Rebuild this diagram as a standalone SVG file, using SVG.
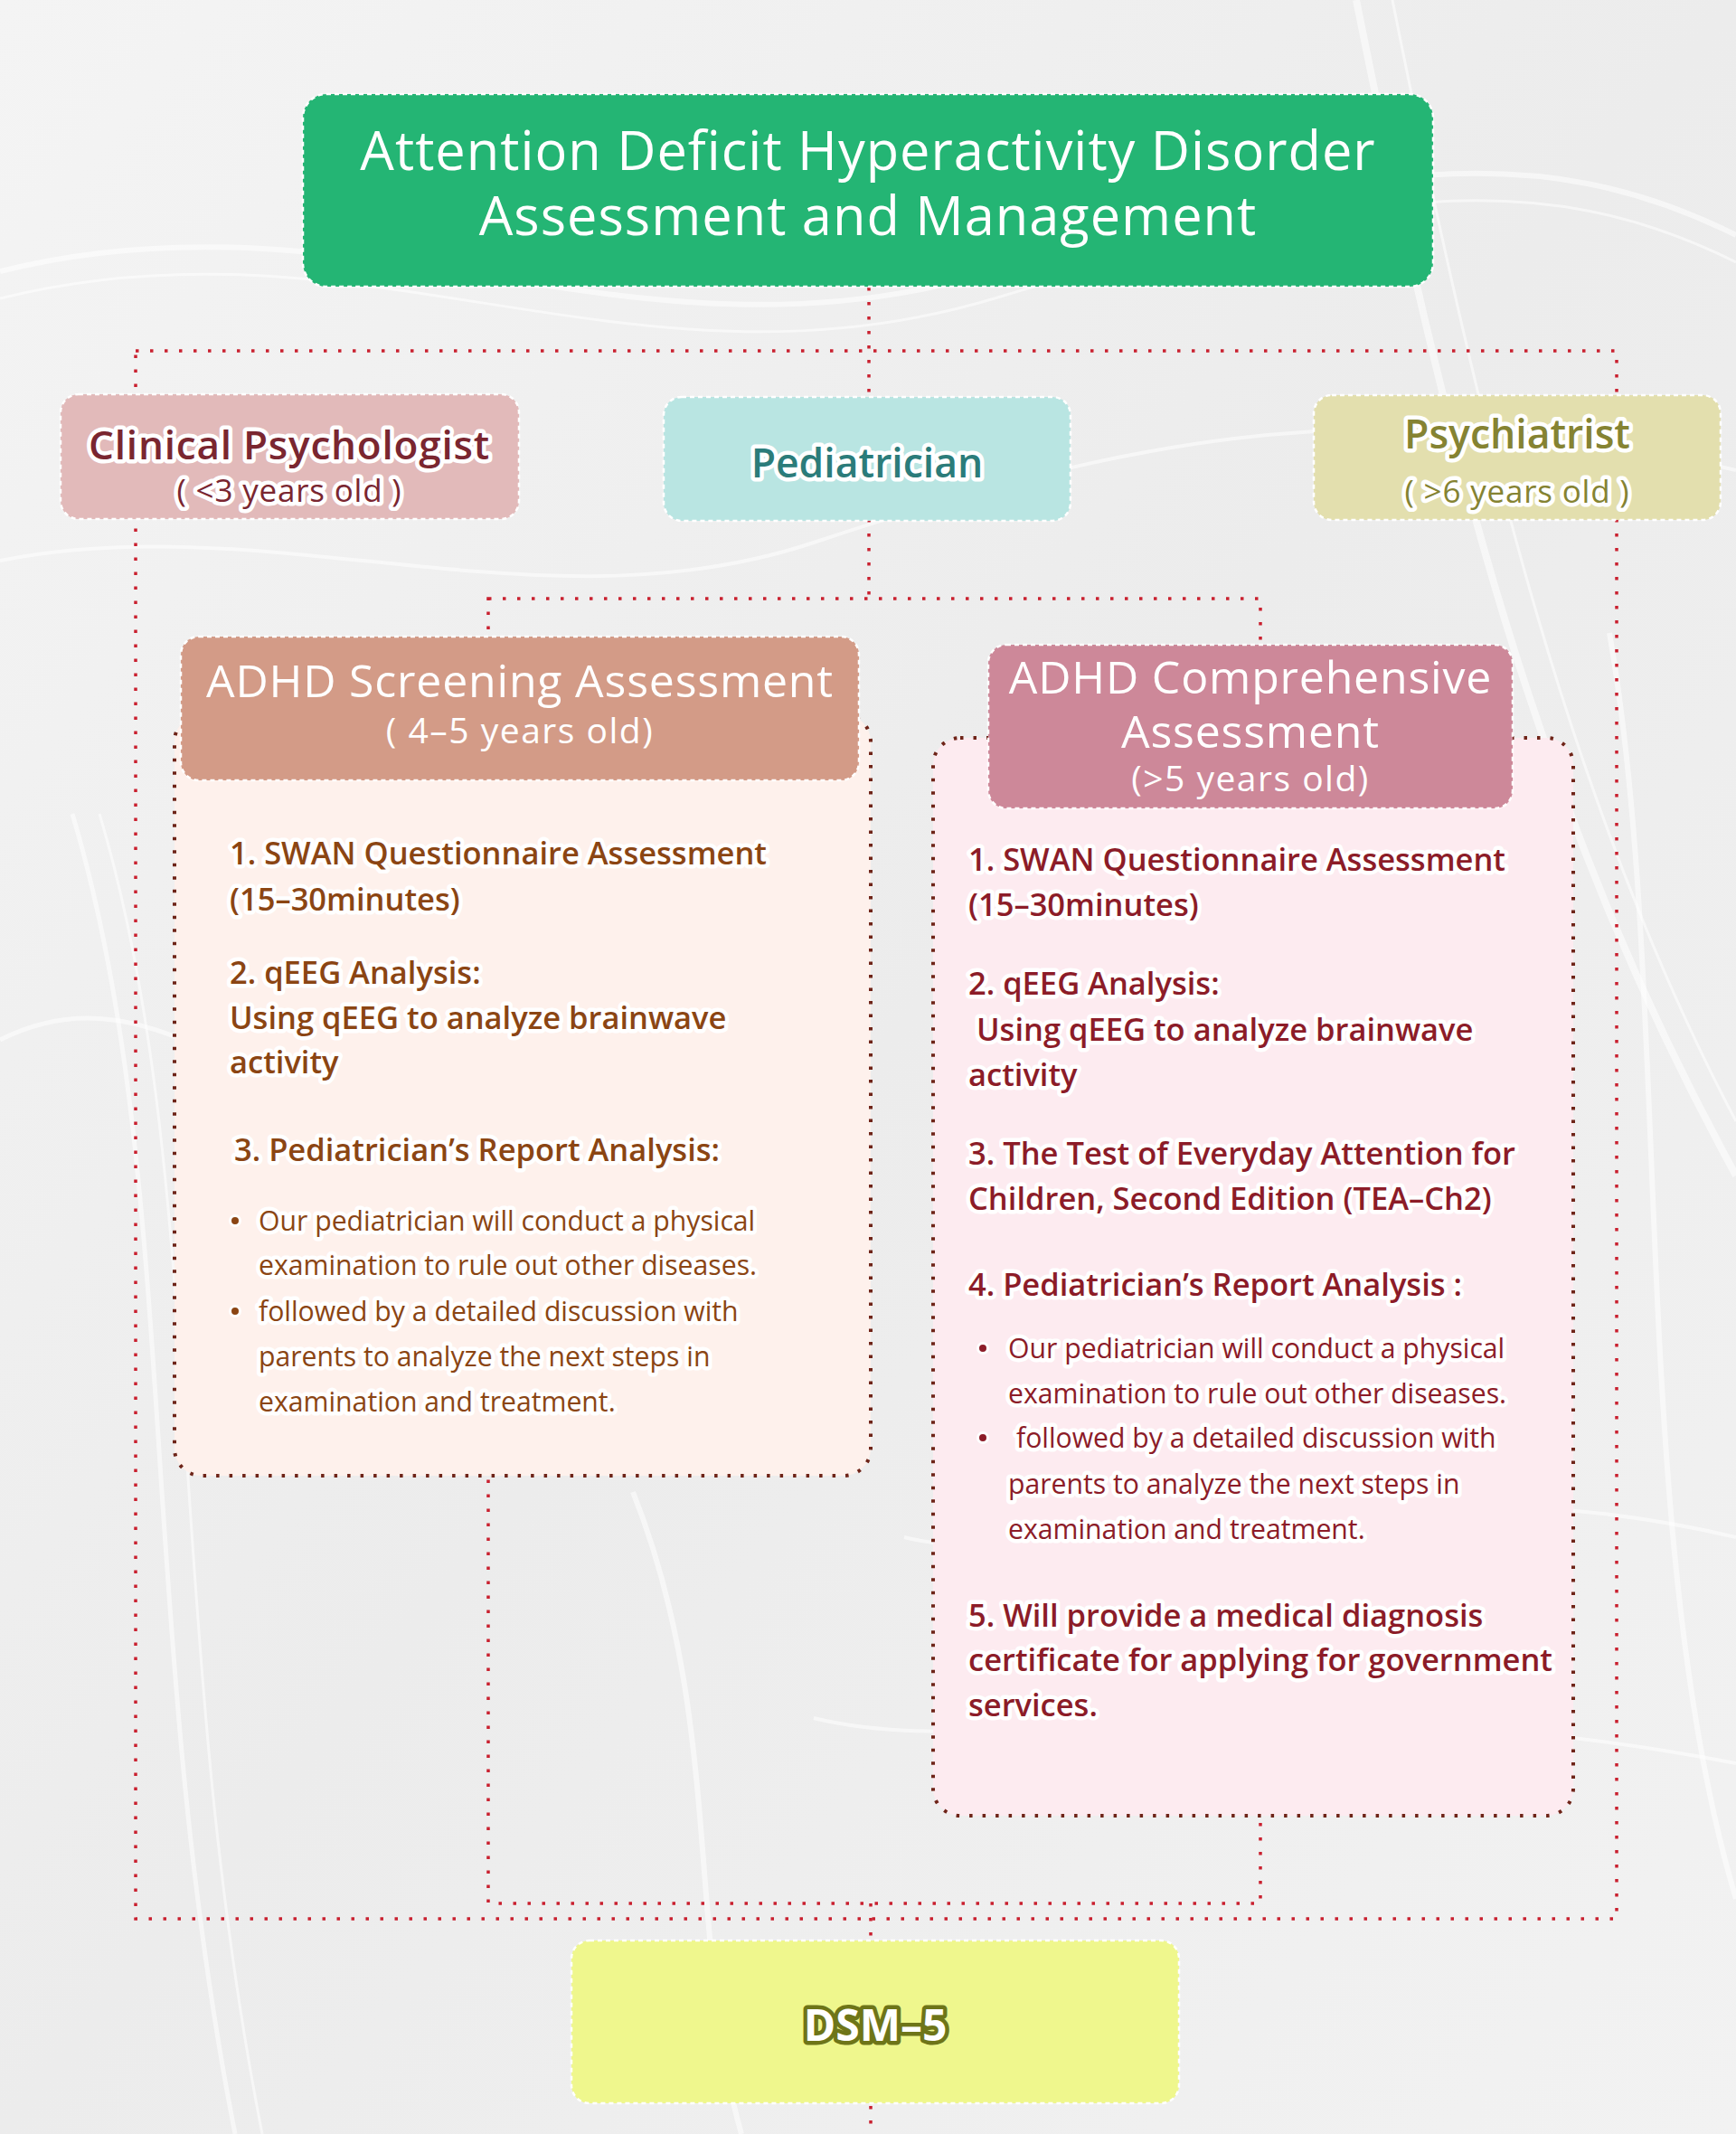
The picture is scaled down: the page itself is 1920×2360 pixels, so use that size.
<svg xmlns="http://www.w3.org/2000/svg" width="1920" height="2360" viewBox="0 0 1920 2360">
<style>
.t{font-family:"Open Sans","Noto Sans","Liberation Sans",sans-serif}
.conn{fill:none;stroke:#C9202F;stroke-width:3.5;stroke-dasharray:3.5 12.5}
.nb{stroke:#ffffff;stroke-width:2.5;stroke-dasharray:5 4}
.bodybox{stroke:#6E2418;stroke-width:4;stroke-dasharray:3.5 11}
.halo{paint-order:stroke;stroke:#ffffff;stroke-width:9;stroke-linejoin:round}
.wave{fill:none;stroke:#ffffff;stroke-opacity:0.55}
.scr{fill:#8B4513}
.cmp{fill:#8C1C28}
.item{font-size:34.5px;font-weight:600}
.bul{font-size:30.2px;font-weight:400}
</style>
<defs>
<linearGradient id="bg" x1="0" y1="0" x2="1" y2="1">
<stop offset="0" stop-color="#F4F4F4"/>
<stop offset="0.5" stop-color="#ECECEC"/>
<stop offset="1" stop-color="#F2F2F2"/>
</linearGradient>
</defs>
<rect width="1920" height="2360" fill="url(#bg)"/>
<g id="background-texture">
<path class="wave" stroke-width="6" d="M0 300 C400 200 700 420 1100 300 S1700 150 1920 260"/>
<path class="wave" stroke-width="3" d="M0 330 C400 230 700 450 1100 330 S1700 180 1920 290"/>
<path class="wave" stroke-width="4" d="M0 620 C300 560 600 700 900 600 S1500 420 1920 520"/>
<path class="wave" stroke-width="8" d="M1500 0 C1600 500 1700 900 1920 1300"/>
<path class="wave" stroke-width="3" d="M1540 0 C1640 500 1740 900 1920 1240"/>
<path class="wave" stroke-width="5" d="M80 900 C200 1300 150 1800 260 2360"/>
<path class="wave" stroke-width="3" d="M110 900 C230 1300 180 1800 290 2360"/>
<path class="wave" stroke-width="6" d="M700 1650 C800 1900 760 2150 820 2360"/>
<path class="wave" stroke-width="4" d="M1000 1700 C1200 1750 1500 1600 1920 1700"/>
<path class="wave" stroke-width="4" d="M900 1900 C1100 1950 1400 1850 1920 1950"/>
<path class="wave" stroke-width="5" d="M0 1150 C200 1050 300 1300 600 1200"/>
<path class="wave" stroke-width="6" d="M1780 700 C1850 1100 1800 1700 1920 2100"/>
</g>
<g id="connectors">
<path class="conn" d="M961 318 V659"/>
<path class="conn" d="M150 388 H1788 V2122 H150 Z"/>
<path class="conn" d="M540 662 H1394 V2105 H540 Z"/>
<path class="conn" d="M963 2105 V2360"/>
</g>
<g id="title">
<rect class="nb" x="335" y="104" width="1250" height="213" rx="26" fill="#24B574"/>
<text class="t" x="960" y="188" text-anchor="middle" font-size="59.5" font-weight="500" fill="#ffffff" letter-spacing="1">Attention Deficit Hyperactivity Disorder</text>
<text class="t" x="960" y="260" text-anchor="middle" font-size="59.5" font-weight="500" fill="#ffffff" letter-spacing="1">Assessment and Management</text>
</g>
<g id="clinical-psychologist">
<rect class="nb" x="67" y="436" width="507" height="138" rx="20" fill="#E2BABA"/>
<text class="t halo" x="320" y="508" text-anchor="middle" font-size="44" font-weight="600" fill="#7A2630" letter-spacing="0.8">Clinical Psychologist</text>
<text class="t halo" x="320" y="555" text-anchor="middle" font-size="35" font-weight="400" fill="#7A2630" letter-spacing="0.8">( &lt;3 years old )</text>
</g>
<g id="pediatrician">
<rect class="nb" x="734" y="439" width="450" height="137" rx="20" fill="#B9E5E2"/>
<text class="t halo" x="959" y="528" text-anchor="middle" font-size="44.5" font-weight="600" fill="#2B7C7A">Pediatrician</text>
</g>
<g id="psychiatrist">
<rect class="nb" x="1453" y="437" width="450" height="138" rx="20" fill="#E3DFAE"/>
<text class="t halo" x="1678" y="496" text-anchor="middle" font-size="44.5" font-weight="600" fill="#858332">Psychiatrist</text>
<text class="t halo" x="1678" y="556" text-anchor="middle" font-size="35" font-weight="400" fill="#858332" letter-spacing="0.8">( &gt;6 years old )</text>
</g>
<g id="screening-body">
<rect class="bodybox" x="193" y="790" width="770" height="842" rx="30" fill="#FEF1EC"/>
<text class="t halo scr item" x="254" y="956">1. SWAN Questionnaire Assessment</text>
<text class="t halo scr item" x="254" y="1007">(15–30minutes)</text>
<text class="t halo scr item" x="254" y="1088">2. qEEG Analysis:</text>
<text class="t halo scr item" x="254" y="1138">Using qEEG to analyze brainwave</text>
<text class="t halo scr item" x="254" y="1187">activity</text>
<text class="t halo scr item" x="259" y="1284">3. Pediatrician’s Report Analysis:</text>
<circle cx="260" cy="1350" r="5.5" fill="#8B4513" stroke="#fff" stroke-width="3"/>
<text class="t halo scr bul" x="286" y="1361">Our pediatrician will conduct a physical</text>
<text class="t halo scr bul" x="286" y="1410">examination to rule out other diseases.</text>
<circle cx="260" cy="1450" r="5.5" fill="#8B4513" stroke="#fff" stroke-width="3"/>
<text class="t halo scr bul" x="286" y="1461">followed by a detailed discussion with</text>
<text class="t halo scr bul" x="286" y="1511">parents to analyze the next steps in</text>
<text class="t halo scr bul" x="286" y="1561">examination and treatment.</text>
</g>
<g id="screening-header">
<rect class="nb" x="200" y="704" width="750" height="159" rx="20" fill="#D39B87"/>
<text class="t" x="575" y="771" text-anchor="middle" font-size="50" font-weight="500" fill="#ffffff" letter-spacing="0.8">ADHD Screening Assessment</text>
<text class="t" x="575" y="822" text-anchor="middle" font-size="39" font-weight="400" fill="#ffffff" letter-spacing="1.5">( 4–5 years old)</text>
</g>
<g id="comprehensive-body">
<rect class="bodybox" x="1032" y="816" width="708" height="1192" rx="30" fill="#FDEBF0"/>
<text class="t halo cmp item" x="1071" y="963">1. SWAN Questionnaire Assessment</text>
<text class="t halo cmp item" x="1071" y="1013">(15–30minutes)</text>
<text class="t halo cmp item" x="1071" y="1100">2. qEEG Analysis:</text>
<text class="t halo cmp item" x="1071" y="1151" xml:space="preserve"> Using qEEG to analyze brainwave</text>
<text class="t halo cmp item" x="1071" y="1201">activity</text>
<text class="t halo cmp item" x="1071" y="1288">3. The Test of Everyday Attention for</text>
<text class="t halo cmp item" x="1071" y="1338">Children, Second Edition (TEA–Ch2)</text>
<text class="t halo cmp item" x="1071" y="1433">4. Pediatrician’s Report Analysis :</text>
<circle cx="1087" cy="1491" r="5.5" fill="#8C1C28" stroke="#fff" stroke-width="3"/>
<text class="t halo cmp bul" x="1115" y="1502">Our pediatrician will conduct a physical</text>
<text class="t halo cmp bul" x="1115" y="1552">examination to rule out other diseases.</text>
<circle cx="1087" cy="1590" r="5.5" fill="#8C1C28" stroke="#fff" stroke-width="3"/>
<text class="t halo cmp bul" x="1124" y="1601">followed by a detailed discussion with</text>
<text class="t halo cmp bul" x="1115" y="1652">parents to analyze the next steps in</text>
<text class="t halo cmp bul" x="1115" y="1702">examination and treatment.</text>
<text class="t halo cmp item" x="1071" y="1799">5. Will provide a medical diagnosis</text>
<text class="t halo cmp item" x="1071" y="1848">certificate for applying for government</text>
<text class="t halo cmp item" x="1071" y="1898">services.</text>
</g>
<g id="comprehensive-header">
<rect class="nb" x="1093" y="713" width="580" height="181" rx="20" fill="#CD8899"/>
<text class="t" x="1383" y="767" text-anchor="middle" font-size="50" font-weight="500" fill="#ffffff" letter-spacing="0.8">ADHD Comprehensive</text>
<text class="t" x="1383" y="827" text-anchor="middle" font-size="50" font-weight="500" fill="#ffffff" letter-spacing="0.8">Assessment</text>
<text class="t" x="1383" y="875" text-anchor="middle" font-size="39" font-weight="400" fill="#ffffff" letter-spacing="1.5">(&gt;5 years old)</text>
</g>
<g id="dsm5">
<rect class="nb" x="632" y="2146" width="672" height="180" rx="20" fill="#EFF78D"/>
<text class="t" x="968" y="2257" text-anchor="middle" font-size="48" font-weight="700" fill="#ffffff" stroke="#6E7518" stroke-width="9" stroke-linejoin="round" paint-order="stroke">DSM–5</text>
</g>
</svg>
